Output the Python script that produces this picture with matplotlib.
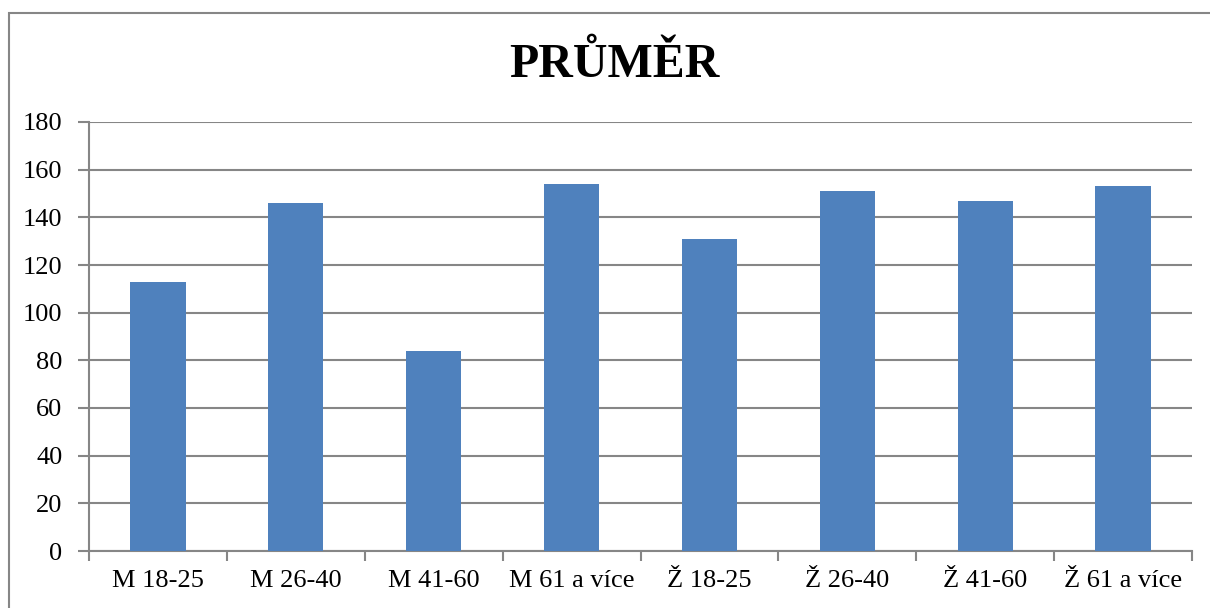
import matplotlib
matplotlib.use("Agg")
import matplotlib.pyplot as plt
from matplotlib.patches import Rectangle

categories = ["M 18-25", "M 26-40", "M 41-60", "M 61 a více",
              "Ž 18-25", "Ž 26-40", "Ž 41-60", "Ž 61 a více"]
values = [113, 146, 84, 154, 131, 151, 147, 153]
y_ticks = [0, 20, 40, 60, 80, 100, 120, 140, 160, 180]
title = "PRŮMĚR"

plt.rcParams["font.family"] = ["Liberation Serif", "DejaVu Serif"]

W, H = 1210, 608
fig = plt.figure(figsize=(W / 100, H / 100), dpi=100)
fig.patch.set_facecolor("white")

# chart frame
fig.patches.append(Rectangle((8.5 / W, -0.05), 1.2, 1 - 12.5 / H + 0.05,
                             transform=fig.transFigure, fill=False,
                             edgecolor="#868686", linewidth=1.5))

left, right, top, bottom = 89, 1192, 122, 551
ax = fig.add_axes([left / W, 1 - bottom / H, (right - left) / W, (bottom - top) / H])

grid_c = "#868686"
x = list(range(len(categories)))
ax.bar(x, values, width=0.4, color="#4F81BD", zorder=3)

ax.set_xlim(-0.5, len(categories) - 0.5)
ax.set_ylim(0, 180)
ax.set_yticks(y_ticks)
ax.set_yticklabels([str(v) for v in y_ticks], fontsize=19)
ax.yaxis.grid(True, color=grid_c, linewidth=1.5, zorder=0)
ax.set_axisbelow(True)

ax.set_xticks(x)
ax.set_xticklabels(categories, fontsize=19)
ax.tick_params(axis="x", length=0, pad=14)
ax.set_xticks([i - 0.5 for i in range(len(categories) + 1)], minor=True)
ax.tick_params(axis="x", which="minor", length=7, width=1.5, color=grid_c, direction="out")
ax.tick_params(axis="y", length=8, width=1.5, color=grid_c, pad=11)

for s in ["top", "right"]:
    ax.spines[s].set_visible(False)
for s in ["left", "bottom"]:
    ax.spines[s].set_color(grid_c)
    ax.spines[s].set_linewidth(1.5)

fig.text(614.5 / W, 1 - 77 / H, title, ha="center", va="baseline",
         fontsize=34.5, fontweight="bold")

fig.savefig("out.png", dpi=100)
